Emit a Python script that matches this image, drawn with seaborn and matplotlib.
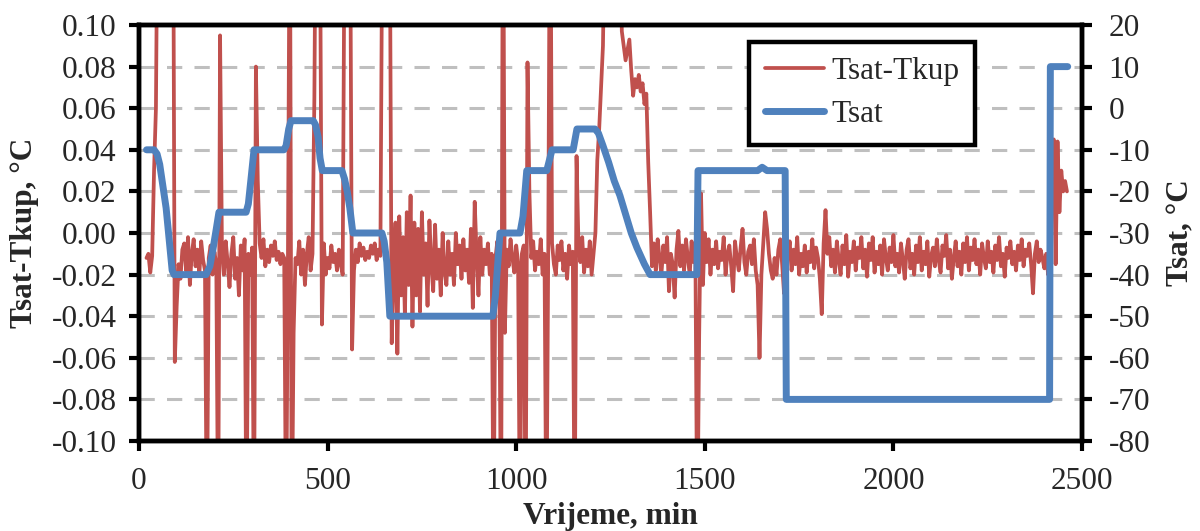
import numpy as np
import pandas as pd
import seaborn as sns
import matplotlib
matplotlib.use("Agg")
import matplotlib.pyplot as plt

vrijeme_start = 20
vrijeme_korak = 5
tsat_tkup = [
    -0.012, -0.010, -0.019, -0.011, 0.030, 0.060, 0.18, 0.25, 0.30, 0.30, 0.30, 0.30, 0.30, 0.25, 0.20, -0.062, -0.035, -0.015, -0.022, -0.008,
    -0.005, -0.018, -0.002, -0.025, -0.010, -0.003, -0.016, -0.008, -0.020, -0.004, -0.013, -0.018, -0.15, -0.012, -0.006, -0.020, -0.009, -0.015, -0.15, 0.095,
    -0.008, -0.020, -0.004, -0.014, -0.026, -0.010, -0.002, -0.022, -0.012, -0.030, -0.006, -0.018, -0.003, -0.15, -0.010, -0.020, -0.007, -0.15, 0.080, 0.025,
    -0.005, -0.012, -0.003, -0.016, -0.008, -0.014, -0.006, -0.011, -0.004, -0.013, -0.009, -0.015, -0.010, -0.012, -0.15, -0.010, 0.18, -0.15, -0.048, -0.012,
    -0.015, -0.004, -0.020, -0.008, -0.025, -0.010, -0.002, -0.018, -0.010, 0.065, 0.20, 0.20, 0.15, -0.044, -0.005, -0.020, -0.012, -0.017, -0.006, -0.014,
    -0.010, -0.018, -0.008, -0.015, -0.020, 0.15, 0.20, 0.20, 0.15, -0.056, -0.018, -0.008, -0.014, -0.005, -0.011, -0.007, -0.013, -0.009, -0.012, -0.006,
    -0.010, -0.005, -0.013, -0.008, -0.011, 0.15, 0.20, 0.15, 0.20, 0.15, -0.053, -0.020, 0.005, -0.058, 0.008, -0.030, -0.002, -0.040, 0.010, -0.025,
    0.018, -0.045, 0.005, -0.030, 0.002, -0.038, 0.010, -0.020, -0.005, -0.035, 0.006, -0.015, -0.028, 0.004, -0.022, -0.008, -0.030, 0.000, -0.018, -0.025,
    -0.004, -0.020, -0.010, -0.025, 0.000, -0.015, -0.006, -0.022, -0.003, -0.018, -0.008, -0.024, 0.002, -0.036, 0.015, -0.010, -0.030, -0.002, -0.020, -0.008,
    -0.015, -0.005, -0.020, -0.010, -0.15, -0.012, -0.004, -0.018, -0.15, 0.20, -0.048, -0.008, -0.016, -0.003, -0.012, -0.019, -0.006, -0.014, -0.15, -0.010,
    -0.006, -0.15, 0.082, 0.020, -0.012, -0.004, -0.018, -0.009, -0.015, -0.003, -0.020, -0.010, -0.15, -0.008, 0.20, -0.005, -0.015, -0.020, -0.006, -0.013,
    -0.004, -0.018, -0.010, -0.022, -0.006, -0.015, -0.009, -0.15, 0.037, -0.005, -0.014, -0.002, -0.019, -0.008, -0.016, -0.004, -0.020, -0.010, 0.000, 0.035,
    0.050, 0.070, 0.090, 0.15, 0.20, 0.20, 0.20, 0.20, 0.20, 0.20, 0.20, 0.15, 0.097, 0.090, 0.083, 0.088, 0.093, 0.078, 0.066, 0.074,
    0.070, 0.076, 0.068, 0.072, 0.062, 0.067, 0.034, 0.010, -0.016, -0.005, -0.018, -0.003, -0.012, -0.020, -0.006, -0.014, -0.002, -0.028, -0.010, -0.015,
    -0.031, -0.008, 0.001, -0.016, -0.006, -0.018, -0.003, -0.012, -0.020, -0.004, -0.014, -0.008, -0.15, -0.050, 0.019, -0.025, 0.000, -0.014, -0.003, -0.020,
    -0.008, -0.015, -0.004, -0.017, -0.009, -0.013, -0.002, -0.020, -0.010, -0.006, -0.016, -0.028, -0.004, -0.012, -0.018, -0.007, 0.002, -0.014, -0.020, -0.009,
    -0.006, -0.015, -0.003, -0.018, -0.025, -0.060, -0.020, -0.005, 0.010, 0.002, -0.010, -0.018, -0.022, -0.012, -0.020, -0.008, -0.003, -0.015, -0.029, -0.010,
    -0.012, -0.004, -0.018, -0.008, -0.015, -0.002, -0.020, -0.010, -0.016, -0.006, -0.019, -0.009, -0.014, -0.003, -0.017, -0.007, -0.012, -0.022, -0.039, -0.005,
    0.011, -0.010, -0.002, -0.016, -0.008, -0.019, -0.004, -0.013, -0.020, -0.006, -0.015, -0.001, -0.021, -0.009, -0.014, -0.004, -0.018, -0.007, -0.012, -0.002,
    -0.017, -0.008, -0.021, -0.005, -0.013, -0.002, -0.019, -0.009, -0.015, -0.006, -0.020, -0.003, -0.012, -0.018, -0.007, -0.014, -0.001, -0.016, -0.010, -0.019,
    -0.005, -0.013, -0.022, -0.008, -0.003, -0.017, -0.010, -0.020, -0.006, -0.014, -0.002, -0.018, -0.009, -0.015, -0.004, -0.021, -0.011, -0.007, -0.016, -0.003,
    -0.013, -0.019, -0.006, -0.011, -0.001, -0.017, -0.008, -0.022, -0.012, -0.004, -0.016, -0.009, -0.020, -0.005, -0.014, -0.002, -0.018, -0.007, -0.013, -0.003,
    -0.015, -0.008, -0.020, -0.005, -0.012, -0.017, -0.004, -0.014, -0.009, -0.019, -0.006, -0.013, -0.002, -0.016, -0.010, -0.021, -0.007, -0.012, -0.004, -0.015,
    -0.009, -0.018, -0.006, -0.013, -0.003, -0.016, -0.008, -0.011, -0.005, -0.015, -0.029, -0.010, -0.004, -0.014, -0.008, -0.012, -0.017, -0.010, -0.020, -0.012,
    0.040, 0.045, -0.015, 0.044, 0.010, 0.030, 0.020, 0.025, 0.020,
]
vrijeme_razlika = vrijeme_start + vrijeme_korak * np.arange(len(tsat_tkup))

# Tsat breakpoints (min, degC)
vrijeme_tsat = [20, 40, 48, 55, 72, 88, 93, 178, 188, 196, 205, 212, 284, 290, 297, 305,
                384, 390, 397, 403, 462, 468, 475, 480, 486, 538, 545, 552, 559, 567,
                644, 650, 657, 665, 938, 945, 957, 1010, 1018, 1028, 1081, 1095, 1151, 1161,
                1209, 1218, 1230, 1245, 1260, 1275, 1290, 1305, 1320, 1340, 1355,
                1479, 1482, 1640, 1652, 1665, 1713, 1716, 2414, 2416, 2462]
tsat = [-10, -10, -11, -13.5, -24, -39, -40, -40, -38, -34, -29, -25, -25, -23, -17, -10,
        -10, -9, -5, -3, -3, -4, -7, -12, -15, -15, -17, -20, -24, -30,
        -30, -32, -37, -50, -50, -45, -30, -30, -26, -15, -15, -10, -10, -5,
        -5, -6, -9, -13, -17.5, -21, -25.5, -30, -33.5, -37.5, -40,
        -40, -15, -15, -14.2, -15, -15, -70, -70, 10, 10]

df_r = pd.DataFrame({"Vrijeme": vrijeme_razlika, "Tsat-Tkup": tsat_tkup})
df_t = pd.DataFrame({"Vrijeme": vrijeme_tsat, "Tsat": tsat})

sns.set_style("ticks")
plt.rcParams["font.family"] = ["Liberation Serif", "DejaVu Serif"]
plt.rcParams["axes.unicode_minus"] = False

fig, ax = plt.subplots(figsize=(12, 5.31), dpi=100)
fig.subplots_adjust(left=0.1158, right=0.9017, top=0.9529, bottom=0.1695)

red = "#C0504D"
blue = "#4F81BD"

sns.lineplot(data=df_r, x="Vrijeme", y="Tsat-Tkup", ax=ax, color=red,
             linewidth=2.7, estimator=None, label="Tsat-Tkup")
ax2 = ax.twinx()
sns.lineplot(data=df_t, x="Vrijeme", y="Tsat", ax=ax2, color=blue,
             linewidth=5.0, estimator=None, label="Tsat")

ax.set_xlim(0, 2500)
ax.set_ylim(-0.10, 0.10)
ax2.set_ylim(-80, 20)
ax.set_xticks(np.arange(0, 2501, 500))
ax.set_yticks(np.arange(-0.10, 0.1001, 0.02))
ax.set_yticklabels(["%.2f" % v for v in np.arange(-0.10, 0.1001, 0.02)])
ax2.set_yticks(np.arange(-80, 21, 10))

ax.yaxis.grid(True, color="#BFBFBF", linewidth=2.2, linestyle=(0, (5.0, 4.0)))
ax.set_axisbelow(True)

fs = 22.5
ax.set_xlabel("Vrijeme, min", fontsize=fs, fontweight="bold", labelpad=4)
ax.set_ylabel("Tsat-Tkup, °C", fontsize=fs, fontweight="bold", labelpad=9)
ax2.set_ylabel("Tsat, °C", fontsize=fs, fontweight="bold", labelpad=12)

for a in (ax, ax2):
    a.tick_params(labelsize=fs, direction="out", length=7, width=3.0, color="black")
    for s in a.spines.values():
        s.set_visible(True)
        s.set_linewidth(3.2)
        s.set_color("black")
ax.tick_params(axis="y", pad=9)
ax.tick_params(axis="x", pad=12)
ax2.tick_params(axis="y", pad=12)

ax.get_legend().remove()
ax2.get_legend().remove()
h1, l1 = ax.get_legend_handles_labels()
h2, l2 = ax2.get_legend_handles_labels()
leg = ax2.legend(h1 + h2, l1 + l2, loc="upper right", bbox_to_anchor=(0.887, 0.96),
                 fontsize=fs, frameon=True, fancybox=False, borderaxespad=0,
                 handlelength=1.9, handletextpad=0.25, labelspacing=0.45, borderpad=0.5)
leg.get_frame().set_edgecolor("black")
leg.get_frame().set_linewidth(3.2)
leg.get_frame().set_alpha(1)

fig.savefig("out.png", dpi=100)
